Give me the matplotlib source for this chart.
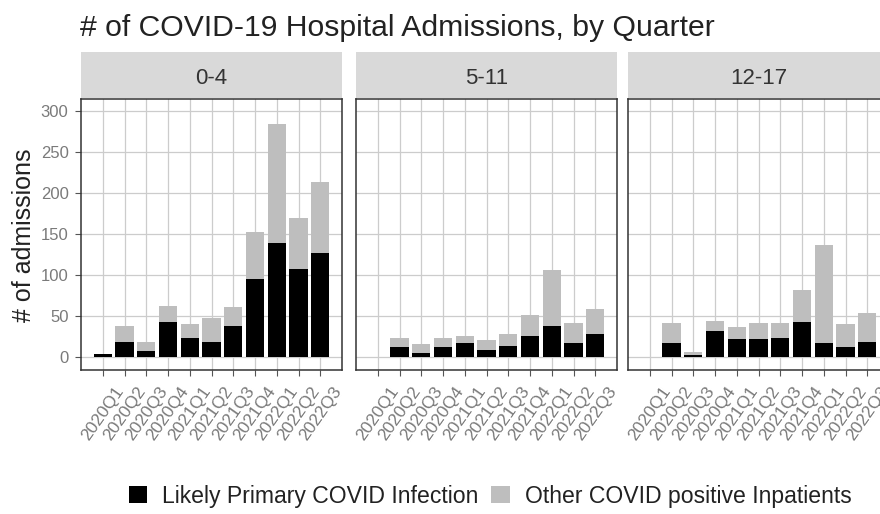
import matplotlib
matplotlib.use('Agg')
from matplotlib import pyplot as plt
from matplotlib.patches import Patch

plt.rcParams['font.family'] = ['Liberation Sans', 'DejaVu Sans']

quarters = ['2020Q1', '2020Q2', '2020Q3', '2020Q4', '2021Q1', '2021Q2',
            '2021Q3', '2021Q4', '2022Q1', '2022Q2', '2022Q3']
age_groups = ['0-4', '5-11', '12-17']

# likely primary covid infection
primary_0_4 = [4, 19, 8, 43, 24, 19, 38, 95, 139, 108, 127]
primary_5_11 = [0, 12, 5, 12, 17, 9, 14, 26, 38, 17, 28]
primary_12_17 = [0, 17, 3, 32, 22, 22, 24, 43, 17, 12, 19]
# other covid positive inpatients
other_0_4 = [0, 19, 10, 20, 16, 29, 23, 57, 145, 61, 87]
other_5_11 = [0, 11, 11, 11, 9, 12, 14, 25, 68, 25, 31]
other_12_17 = [0, 25, 3, 12, 15, 20, 18, 39, 120, 28, 35]

primary = [primary_0_4, primary_5_11, primary_12_17]
other = [other_0_4, other_5_11, other_12_17]

W, H = 880, 514
fig = plt.figure(figsize=(W / 100, H / 100), dpi=100)

lefts = [81, 356, 628]
pw = 261
top, bottom = 99, 370
strip_top = 52
x = list(range(1, len(quarters) + 1))

for i, g in enumerate(age_groups):
    ax = fig.add_axes([lefts[i] / W, (H - bottom) / H, pw / W, (bottom - top) / H])
    ax.bar(x, primary[i], width=0.83, color='black', zorder=3)
    ax.bar(x, other[i], bottom=primary[i], width=0.83, color='#BEBEBE', zorder=3)
    ax.set_xlim(0, 12)
    ax.set_ylim(-15.5, 314.5)
    ax.set_xticks(x)
    ax.set_xticklabels(quarters, rotation=55, ha='center', va='top',
                       fontsize=12.5, color='#7a7a7a')
    ax.set_yticks(range(0, 301, 50))
    ax.grid(color='#CCCCCC', lw=0.9, zorder=0)
    ax.set_axisbelow(True)
    for s in ax.spines.values():
        s.set_color('#333333')
        s.set_linewidth(1.1)
    ax.tick_params(axis='x', length=4, color='#555555', pad=6)
    if i == 0:
        ax.tick_params(axis='y', length=4, color='#555555', labelsize=12,
                       labelcolor='#7a7a7a', pad=5)
    else:
        ax.tick_params(axis='y', left=False, labelleft=False)

    # facet strip
    sax = fig.add_axes([lefts[i] / W, (H - top + 1) / H, pw / W, (top - 1 - strip_top) / H])
    sax.set_facecolor('#D9D9D9')
    sax.set_xticks([])
    sax.set_yticks([])
    for s in sax.spines.values():
        s.set_visible(False)
    sax.text(0.5, 0.42, g, ha='center', va='center', fontsize=16,
             color='#333333', transform=sax.transAxes)

fig.text(80 / W, (H - 36) / H, '# of COVID-19 Hospital Admissions, by Quarter',
         fontsize=21.7, color='#222222', va='baseline', ha='left')
fig.text(24 / W, (H - 235) / H, '# of admissions', rotation=90,
         fontsize=18, color='#222222', ha='center', va='center')

handles = [Patch(facecolor='black'), Patch(facecolor='#BEBEBE')]
fig.legend(handles, ['Likely Primary COVID Infection', 'Other COVID positive Inpatients'],
           loc='center', bbox_to_anchor=(490 / W, (H - 496) / H), ncol=2,
           frameon=False, fontsize=16.6, handlelength=0.8, handleheight=0.8,
           handletextpad=0.65, columnspacing=0.55, labelcolor='#222222')

fig.savefig('out.png', dpi=100)
